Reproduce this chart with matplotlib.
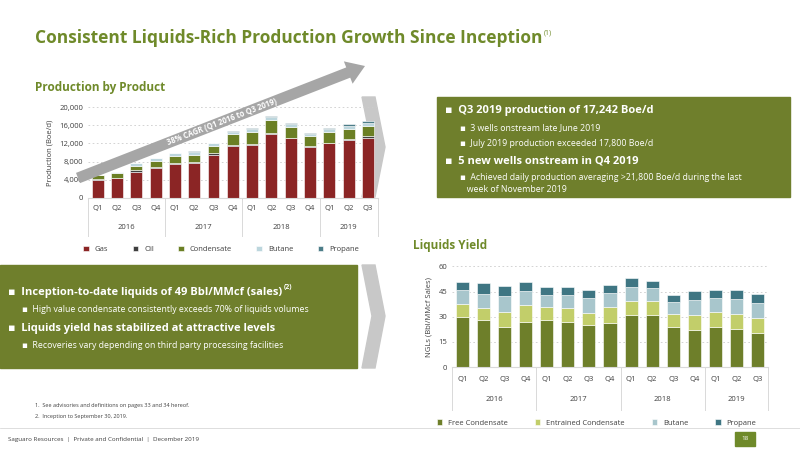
import matplotlib.pyplot as plt
import numpy as np
from matplotlib.patches import Rectangle, Polygon, FancyArrow

plt.rcParams['font.family'] = ['Open Sans', 'DejaVu Sans']

# Данные: добыча по продуктам (Boe/d)
quarters = ['Q1', 'Q2', 'Q3', 'Q4'] * 3 + ['Q1', 'Q2', 'Q3']
years = ['2016', '2017', '2018', '2019']
gas = [4000, 4300, 5800, 6500, 7500, 7700, 9500, 11400, 11600, 14000, 13100, 11200, 12000, 12700, 13300]
oil = [100, 200, 300, 300, 300, 300, 300, 200, 300, 300, 200, 200, 200, 200, 300]
condensate = [900, 900, 1000, 1300, 1500, 1500, 1700, 2400, 2700, 2900, 2400, 2200, 2300, 2300, 2300]
butane = [100, 300, 500, 600, 500, 700, 500, 600, 600, 600, 500, 500, 600, 700, 600]
propane = [50, 100, 100, 100, 100, 100, 200, 200, 300, 300, 300, 300, 300, 400, 400]

# Данные: выход жидкостей (Bbl/MMcf)
free_cond = [30, 28, 24, 27, 28, 27, 25, 26.5, 31, 31, 24, 22, 24, 22.5, 20.5]
entr_cond = [7.5, 7, 9, 10, 8, 8, 7.5, 9.5, 8.5, 8.5, 7.5, 9, 9, 9, 8.5]
y_butane = [8.5, 8.5, 9.5, 8.5, 7, 8, 8.5, 8, 8.5, 7.5, 7.5, 9, 8, 9, 9]
y_propane = [5, 6.5, 6, 5.5, 4.5, 5, 5, 5, 5, 4.5, 4, 5.5, 5, 5.5, 5.5]

GREEN = '#6f8a2a'
TXT = '#404040'

fig = plt.figure(figsize=(8, 4.5), dpi=100)
fig.patch.set_facecolor('white')
bg = fig.add_axes([0, 0, 1, 1])
bg.set_xlim(0, 800)
bg.set_ylim(450, 0)
bg.axis('off')

# Заголовок
bg.text(35, 38, 'Consistent Liquids-Rich Production Growth Since Inception', fontsize=12.5,
        fontweight='bold', color=GREEN, va='center')
bg.text(544, 33, '(1)', fontsize=5, color=GREEN, va='center')
bg.text(35, 88, 'Production by Product', fontsize=8.5, fontweight='bold', color=GREEN, va='center')
bg.text(413, 246, 'Liquids Yield', fontsize=8.5, fontweight='bold', color=GREEN, va='center')

# Зелёные блоки текста
bg.add_patch(Rectangle((437, 97), 353, 100, color='#6f7f2c'))
lines_r = [(111, '▪  Q3 2019 production of 17,242 Boe/d', 8, True, 445),
           (128, '▪  3 wells onstream late June 2019', 6.3, False, 460),
           (144, '▪  July 2019 production exceeded 17,800 Boe/d', 6.3, False, 460),
           (161, '▪  5 new wells onstream in Q4 2019', 8, True, 445),
           (177, '▪  Achieved daily production averaging >21,800 Boe/d during the last', 6.3, False, 460),
           (189, '   week of November 2019', 6.3, False, 460)]
for y, s, fs, b, x in lines_r:
    bg.text(x, y, s, fontsize=fs, color='white', fontweight='bold' if b else 'normal', va='center')

bg.add_patch(Rectangle((0, 265), 357, 103, color='#6f7f2c'))
bg.text(8, 293, '▪  Inception-to-date liquids of 49 Bbl/MMcf (sales)', fontsize=8, color='white',
        fontweight='bold', va='center')
bg.text(284, 288, '(2)', fontsize=5, color='white', fontweight='bold', va='center')
bg.text(22, 310, '▪  High value condensate consistently exceeds 70% of liquids volumes', fontsize=6.3,
        color='white', va='center')
bg.text(8, 329, '▪  Liquids yield has stabilized at attractive levels', fontsize=8, color='white',
        fontweight='bold', va='center')
bg.text(22, 346, '▪  Recoveries vary depending on third party processing facilities', fontsize=6.3,
        color='white', va='center')

# Серые шевроны
for pts in ([(362, 97), (375, 97), (385, 147), (375, 197), (362, 197), (372, 147)],
            [(362, 265), (375, 265), (385, 316), (375, 368), (362, 368), (372, 316)]):
    bg.add_patch(Polygon(pts, color='#c8c8c8'))

# Сноски и нижний колонтитул
bg.text(35, 407, '1.  See advisories and definitions on pages 33 and 34 hereof.', fontsize=4, color=TXT)
bg.text(35, 418, '2.  Inception to September 30, 2019.', fontsize=4, color=TXT)
bg.plot([0, 800], [428, 428], color='#d0d0d0', lw=0.5)
bg.text(8, 440, 'Saguaro Resources  |  Private and Confidential  |  December 2019', fontsize=4.5, color=TXT,
        va='center')
bg.add_patch(Rectangle((735, 432), 20, 14, color=GREEN))
bg.text(745, 439, '18', fontsize=4.5, color='white', ha='center', va='center')


def multilevel(ax):
    tr = ax.get_xaxis_transform()
    for i, q in enumerate(quarters):
        ax.text(i, -0.12, q, transform=tr, ha='center', va='center', fontsize=5.5, color=TXT)
    starts = [0, 4, 8, 12]
    ends = [4, 8, 12, 15]
    for yr, s, e in zip(years, starts, ends):
        ax.text((s + e - 1) / 2, -0.32, yr, transform=tr, ha='center', va='center', fontsize=5.5, color=TXT)
    for b in [-0.5, 3.5, 7.5, 11.5, 14.5]:
        ax.plot([b, b], [0, -0.42], transform=tr, color='#d9d9d9', lw=0.7, clip_on=False)


def style(ax, ymax, step, ylabel):
    ax.set_facecolor('none')
    ax.set_xlim(-0.5, 14.5)
    ax.set_ylim(0, ymax)
    ax.set_yticks(np.arange(0, ymax + 1, step))
    ax.set_yticklabels([f'{v:,.0f}' for v in np.arange(0, ymax + 1, step)], fontsize=5.5, color=TXT)
    ax.set_xticks([])
    ax.grid(axis='y', linestyle=(0, (2, 3)), color='#cccccc', lw=0.6)
    ax.set_axisbelow(True)
    for s in ['top', 'right', 'left']:
        ax.spines[s].set_visible(False)
    ax.spines['bottom'].set_color('#d9d9d9')
    ax.tick_params(axis='y', length=0)
    ax.set_ylabel(ylabel, fontsize=5.5, color=TXT)


x = np.arange(len(quarters))

# Верхний график
ax1 = fig.add_axes([0.11, 0.56, 0.362, 0.202])
series1 = [(gas, 'Gas', '#8b2525'), (oil, 'Oil', '#3f3f3f'), (condensate, 'Condensate', '#6b7f24'),
           (butane, 'Butane', '#bcd6dd'), (propane, 'Propane', '#4c7d88')]
bottom = np.zeros(len(x))
for vals, lab, col in series1:
    ax1.bar(x, vals, 0.62, bottom=bottom, color=col, label=lab, edgecolor='white', linewidth=0.4)
    bottom += np.array(vals)
style(ax1, 20000, 4000, 'Production (Boe/d)')
multilevel(ax1)
ax1.legend(loc='upper left', bbox_to_anchor=(-0.04, -0.45), ncol=5, frameon=False, fontsize=5.5,
           handlelength=0.7, handleheight=0.7, columnspacing=3.2, labelcolor=TXT)

# Нижний график
ax2 = fig.add_axes([0.565, 0.184, 0.395, 0.224])
series2 = [(free_cond, 'Free Condensate', '#6e7f2a'), (entr_cond, 'Entrained Condensate', '#c2ce6a'),
           (y_butane, 'Butane', '#a8c6cc'), (y_propane, 'Propane', '#3f7683')]
bottom = np.zeros(len(x))
for vals, lab, col in series2:
    ax2.bar(x, vals, 0.62, bottom=bottom, color=col, label=lab, edgecolor='white', linewidth=0.4)
    bottom += np.array(vals)
style(ax2, 60, 15, 'NGLs (Bbl/MMcf Sales)')
multilevel(ax2)
ax2.legend(loc='upper left', bbox_to_anchor=(-0.07, -0.45), ncol=4, frameon=False, fontsize=5.5,
           handlelength=0.7, handleheight=0.7, columnspacing=3.5, labelcolor=TXT)

# Большая стрелка CAGR поверх графика
ov = fig.add_axes([0, 0, 1, 1])
ov.set_xlim(0, 800)
ov.set_ylim(450, 0)
ov.axis('off')
ov.add_patch(FancyArrow(78, 178, 287, -112, width=11, head_width=24, head_length=18, color='#a6a6a6',
                        length_includes_head=True, lw=0))
ov.text(222, 122, '38% CAGR (Q1 2016 to Q3 2019)', rotation=21, fontsize=5.5, color='white',
        ha='center', va='center', fontweight='bold')

fig.savefig('out.png', dpi=100)
